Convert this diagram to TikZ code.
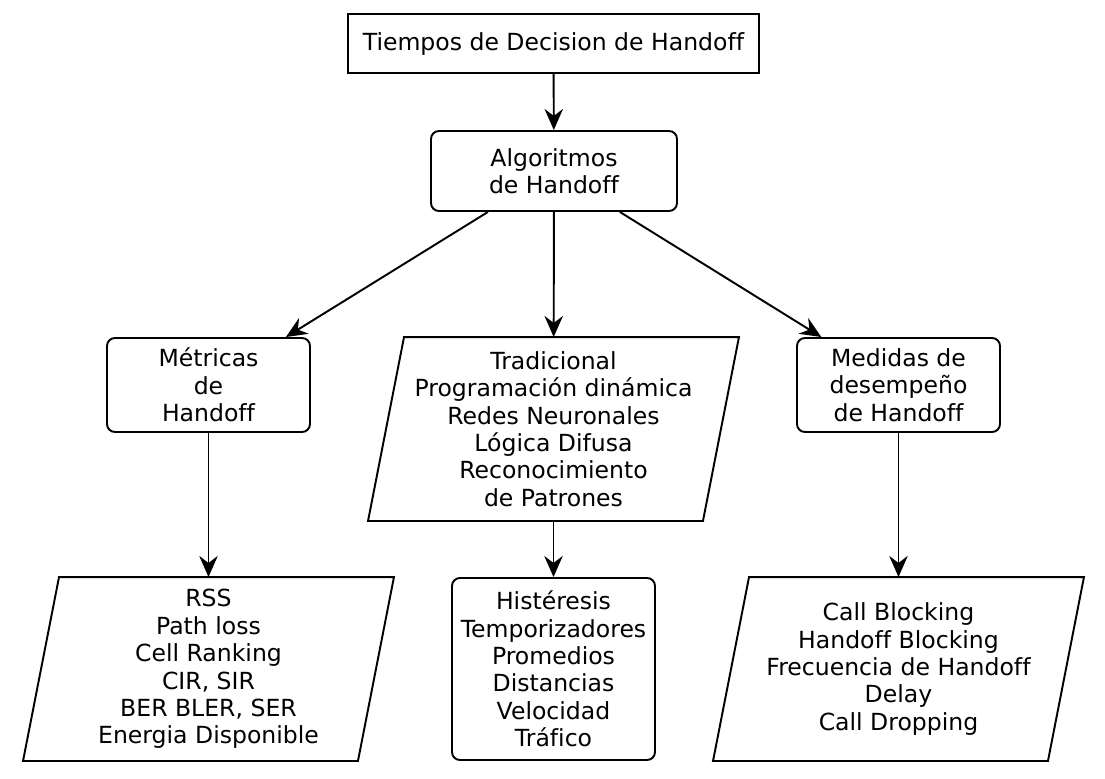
\documentclass[tikz,border=0pt]{standalone}
\usepackage{fontspec}
\setmainfont{DejaVu Sans}[Ligatures=NoCommon]
\usepackage{tikz}
\usetikzlibrary{arrows.meta,calc,positioning}
\tikzset{caja/.style={draw, line width=1.1pt, align=center, inner sep=0pt, font=\fontsize{13.4}{15.6}\selectfont}}
\tikzset{redondo/.style={caja, rounded corners=0.16cm}}
\tikzset{paral/.style={caja, draw=none, minimum width=6.66cm, minimum height=3.64cm}}

\begin{document}
\begin{tikzpicture}[>={Stealth[length=12pt,width=10.5pt,inset=4pt]}, line width=1.1pt]
\useasboundingbox (0,0) rectangle (22.1,-15.58);
\node[caja, minimum width=8.22cm, minimum height=1.18cm] (tiempos) at (11.07,-0.87) {Tiempos de Decision de Handoff};
\node[redondo, minimum width=4.92cm, minimum height=1.6cm] (algoritmos) at (11.08,-3.42) {Algoritmos\\de Handoff};
\node[redondo, minimum width=4.06cm, minimum height=1.88cm] (metricas) at (4.17,-7.70) {Métricas\\de\\Handoff};
\node[paral] (tecnicas) at (11.07,-8.58) {Tradicional\\Programación dinámica\\Redes Neuronales\\Lógica Difusa\\Reconocimiento\\de Patrones};
\node[redondo, minimum width=4.06cm, minimum height=1.88cm] (medidas) at (17.97,-7.70) {Medidas de\\desempeño\\de Handoff};
\node[paral] (listamet) at (4.17,-13.38) {RSS\\Path loss\\Cell Ranking\\CIR, SIR\\BER BLER, SER\\Energia Disponible};
\node[redondo, minimum width=4.06cm, minimum height=3.64cm] (criterios) at (11.07,-13.38) {Histéresis\\Temporizadores\\Promedios\\Distancias\\Velocidad\\Tráfico};
\node[paral] (listamed) at (17.97,-13.38) {Call Blocking\\Handoff Blocking\\Frecuencia de Handoff\\Delay\\Call Dropping};
% contornos inclinados
\foreach \n in {tecnicas,listamet,listamed}
  \draw[line width=1.1pt] ($(\n.north west)+(0.36,0)$) -- ($(\n.north east)+(0.36,0)$) -- ($(\n.south east)-(0.36,0)$) -- ($(\n.south west)-(0.36,0)$) -- cycle;
\path[->, line width=1.1pt] (tiempos) edge (algoritmos)
  (algoritmos) edge (metricas)
               edge (tecnicas)
               edge (medidas)
  (metricas) edge (listamet)
  (tecnicas) edge (criterios)
  (medidas) edge (listamed);
\end{tikzpicture}
\end{document}
